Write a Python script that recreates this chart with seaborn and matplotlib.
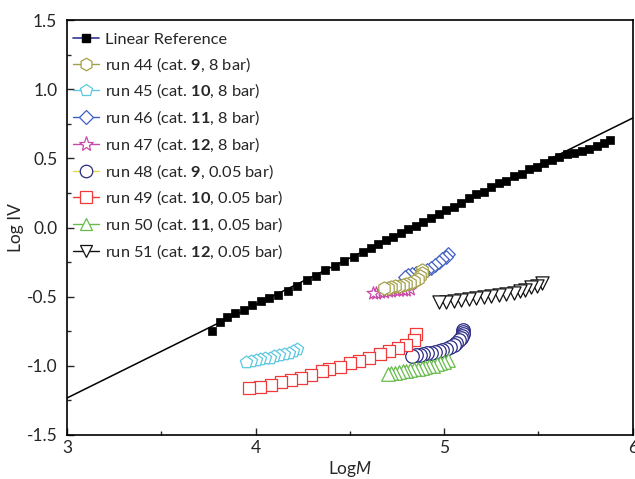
import matplotlib
matplotlib.use('Agg')
import matplotlib.pyplot as plt
from matplotlib.lines import Line2D
from matplotlib.ticker import MultipleLocator
import seaborn as sns

# --- DATA ---
ref_line_x = [3.0, 6.0]
ref_line_y = [-1.233, 0.792]

ref_x = [3.77, 3.81, 3.85, 3.89, 3.94, 3.98, 4.03, 4.07, 4.12, 4.17, 4.22, 4.27, 4.32,
         4.37, 4.42, 4.47, 4.52, 4.57, 4.61, 4.65, 4.69, 4.73, 4.77, 4.81, 4.85, 4.89,
         4.93, 4.97, 5.01, 5.05, 5.09, 5.13, 5.17, 5.21, 5.25, 5.29, 5.33, 5.37, 5.41,
         5.45, 5.49, 5.53, 5.57, 5.61, 5.65, 5.69, 5.73, 5.77, 5.81, 5.85, 5.88]
ref_y = [-0.75, -0.68, -0.65, -0.62, -0.60, -0.56, -0.53, -0.51, -0.49, -0.46, -0.42, -0.38,
         -0.35, -0.31, -0.28, -0.24, -0.21, -0.18, -0.15, -0.12, -0.09, -0.07, -0.04, -0.01,
         0.01, 0.04, 0.07, 0.10, 0.13, 0.15, 0.18, 0.21, 0.24, 0.26, 0.29, 0.32, 0.34, 0.37,
         0.39, 0.42, 0.44, 0.47, 0.49, 0.51, 0.53, 0.54, 0.55, 0.57, 0.59, 0.61, 0.63]

run44_x = [4.68, 4.70, 4.72, 4.74, 4.76, 4.78, 4.80, 4.82, 4.84, 4.86, 4.87, 4.88, 4.885]
run44_y = [-0.44, -0.435, -0.43, -0.425, -0.42, -0.415, -0.41, -0.40, -0.39, -0.37, -0.35,
           -0.33, -0.31]

run45_x = [3.95, 3.975, 4.00, 4.025, 4.05, 4.075, 4.10, 4.125, 4.15, 4.175, 4.20, 4.22]
run45_y = [-0.975, -0.965, -0.955, -0.95, -0.945, -0.94, -0.93, -0.925, -0.915, -0.905,
           -0.89, -0.875]

run46_x = [4.79, 4.81, 4.83, 4.85, 4.87, 4.89, 4.91, 4.93, 4.95, 4.97, 4.99, 5.01, 5.02]
run46_y = [-0.36, -0.34, -0.335, -0.33, -0.33, -0.325, -0.31, -0.29, -0.27, -0.25, -0.23,
           -0.21, -0.19]

run47_x = [4.62, 4.64, 4.66, 4.68, 4.70, 4.72, 4.74, 4.76, 4.78, 4.80, 4.82]
run47_y = [-0.47, -0.47, -0.465, -0.465, -0.46, -0.46, -0.455, -0.455, -0.45, -0.45, -0.445]

run48_x = [4.83, 4.85, 4.87, 4.89, 4.91, 4.93, 4.95, 4.97, 4.99, 5.01, 5.03, 5.05, 5.065,
           5.08, 5.09, 5.095, 5.10, 5.10, 5.10]
run48_y = [-0.93, -0.925, -0.92, -0.915, -0.91, -0.905, -0.90, -0.895, -0.885, -0.875,
           -0.865, -0.85, -0.835, -0.815, -0.80, -0.785, -0.77, -0.755, -0.74]

run49_x = [3.965, 4.025, 4.083, 4.136, 4.19, 4.24, 4.295, 4.35, 4.39, 4.445, 4.50, 4.55,
           4.60, 4.66, 4.705, 4.753, 4.80, 4.84, 4.85]
run49_y = [-1.163, -1.151, -1.14, -1.12, -1.10, -1.09, -1.07, -1.04, -1.02, -1.007, -0.98,
           -0.963, -0.94, -0.915, -0.893, -0.874, -0.85, -0.81, -0.77]

run50_x = [4.70, 4.72, 4.74, 4.76, 4.78, 4.80, 4.82, 4.84, 4.86, 4.88, 4.90, 4.92, 4.94,
           4.96, 4.98, 5.00, 5.02]
run50_y = [-1.06, -1.055, -1.05, -1.045, -1.04, -1.035, -1.03, -1.025, -1.02, -1.015,
           -1.01, -1.005, -1.0, -0.99, -0.98, -0.97, -0.955]

run51_x = [4.97, 5.01, 5.05, 5.09, 5.13, 5.17, 5.21, 5.25, 5.29, 5.33, 5.37, 5.40, 5.43,
           5.46, 5.49, 5.52]
run51_y = [-0.54, -0.535, -0.53, -0.525, -0.52, -0.51, -0.50, -0.495, -0.49, -0.48, -0.47,
           -0.46, -0.45, -0.43, -0.42, -0.40]

labels = ['Linear Reference',
          r'run 44 (cat. $\mathbf{9}$, 8 bar)',
          r'run 45 (cat. $\mathbf{10}$, 8 bar)',
          r'run 46 (cat. $\mathbf{11}$, 8 bar)',
          r'run 47 (cat. $\mathbf{12}$, 8 bar)',
          r'run 48 (cat. $\mathbf{9}$, 0.05 bar)',
          r'run 49 (cat. $\mathbf{10}$, 0.05 bar)',
          r'run 50 (cat. $\mathbf{11}$, 0.05 bar)',
          r'run 51 (cat. $\mathbf{12}$, 0.05 bar)']

sns.set_style('ticks')
plt.rcParams['font.family'] = ['Lato', 'DejaVu Sans']
plt.rcParams['mathtext.fontset'] = 'custom'
plt.rcParams['mathtext.rm'] = 'Lato'
plt.rcParams['mathtext.it'] = 'Lato:italic'
plt.rcParams['mathtext.bf'] = 'Lato:bold'

fig = plt.figure(figsize=(6.35, 4.79), dpi=100)
ax = fig.add_axes([0.1055, 0.092, 0.891, 0.866])

# reference line
sns.lineplot(x=ref_line_x, y=ref_line_y, color='black', linewidth=1.1, ax=ax)
sns.scatterplot(x=ref_x, y=ref_y, marker='s', s=40, color='black', edgecolor='black',
                linewidth=0.5, ax=ax, zorder=3)

# (x, y, marker, size, edge colour, legend line colour)
series = [
    (run44_x, run44_y, 'h', 90, '#a3a04a', '#a3a04a'),
    (run45_x, run45_y, 'p', 85, '#5cc8e0', '#5cc8e0'),
    (run46_x, run46_y, 'D', 48, '#3f5fc4', '#3f5fc4'),
    (run47_x, run47_y, '*', 95, '#c94aa8', '#c94aa8'),
    (run48_x, run48_y, 'o', 95, '#2b2b85', '#e2dc3a'),
    (run49_x, run49_y, 's', 78, '#ee3a3a', '#ee3a3a'),
    (run50_x, run50_y, '^', 95, '#66bb4a', '#66bb4a'),
    (run51_x, run51_y, 'v', 90, '#111111', '#111111'),
]
draw_order = [4, 6, 5, 1, 7, 3, 2, 0]
for i in draw_order:
    xs, ys, mk, sz, col, lc = series[i]
    sns.scatterplot(x=xs[::-1], y=ys[::-1], marker=mk, s=sz, facecolor='white',
                    edgecolor=col, linewidth=0.9, ax=ax, zorder=3)

handles = [Line2D([], [], color='#333399', lw=1.2, marker='s', markersize=5.5,
                  markerfacecolor='black', markeredgecolor='black')]
for xs, ys, mk, sz, col, lc in series:
    ms = {'D': 7, '*': 11, 'v': 9, '^': 9}.get(mk, 9)
    handles.append(Line2D([], [], color=lc, lw=1.0, marker=mk, markersize=ms,
                          markerfacecolor='white', markeredgecolor=col,
                          markeredgewidth=0.9))
ax.legend(handles, labels, loc='upper left', frameon=False, fontsize=11.8,
          handlelength=1.6, handletextpad=0.35, labelspacing=0.5,
          borderaxespad=0.35, bbox_to_anchor=(-0.011, 1.0))

ax.set_xlim(3, 6)
ax.set_ylim(-1.5, 1.5)
ax.xaxis.set_major_locator(MultipleLocator(1))
ax.xaxis.set_minor_locator(MultipleLocator(0.5))
ax.yaxis.set_major_locator(MultipleLocator(0.5))
ax.yaxis.set_minor_locator(MultipleLocator(0.25))
ax.set_yticks([-1.5, -1.0, -0.5, 0.0, 0.5, 1.0, 1.5])
ax.set_yticklabels(['-1.5', '-1.0', '-0.5', '0.0', '0.5', '1.0', '1.5'])
ax.tick_params(which='both', direction='in', labelsize=12.5, width=1)
ax.tick_params(which='major', length=5)
ax.tick_params(which='minor', length=3)
ax.tick_params(axis='y', pad=7)
for sp in ax.spines.values():
    sp.set_visible(True)
    sp.set_linewidth(1.2)
    sp.set_color('black')

ax.set_xlabel(r'Log$\mathit{M}$', fontsize=12.5, labelpad=2)
ax.set_ylabel('Log IV', fontsize=12.5, labelpad=2)

fig.savefig('out.png', dpi=100)
